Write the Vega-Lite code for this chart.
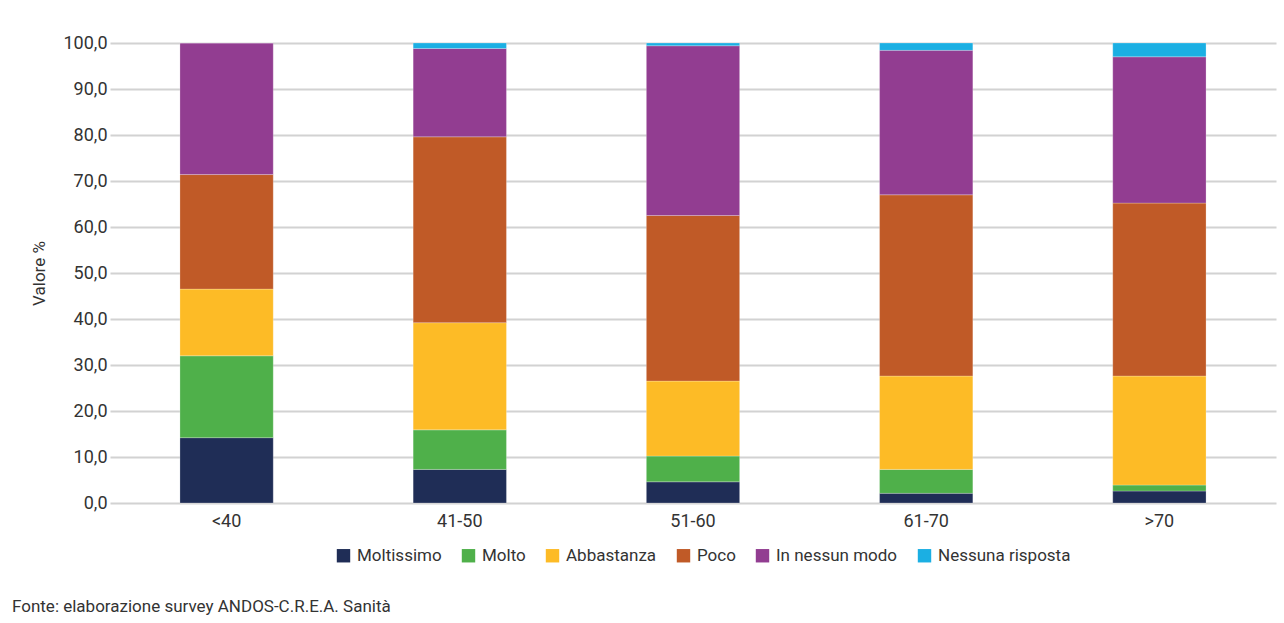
{
  "$schema": "https://vega.github.io/schema/vega-lite/v6.json",
  "width": 1166,
  "height": 460,
  "autosize": "none",
  "padding": {"left": 110, "top": 43, "right": 8, "bottom": 120},
  "background": "white",
  "title": {
    "text": "Fonte: elaborazione survey ANDOS-C.R.E.A. Sanità",
    "orient": "bottom",
    "anchor": "start",
    "frame": "group",
    "dx": -98,
    "offset": 35,
    "fontSize": 17,
    "fontWeight": "normal",
    "font": "Roboto, sans-serif",
    "color": "#333333"
  },
  "config": {
    "locale": {"number": {"decimal": ",", "thousands": ".", "grouping": [3], "currency": ["€", ""]}},
    "view": {"stroke": null},
    "font": "Roboto, sans-serif"
  },
  "data": {
    "values": [
      {"eta": "<40", "risposta": "Moltissimo", "k": 1, "valore": 14.2},
      {"eta": "<40", "risposta": "Molto", "k": 2, "valore": 17.8},
      {"eta": "<40", "risposta": "Abbastanza", "k": 3, "valore": 14.5},
      {"eta": "<40", "risposta": "Poco", "k": 4, "valore": 24.9},
      {"eta": "<40", "risposta": "In nessun modo", "k": 5, "valore": 28.6},
      {"eta": "<40", "risposta": "Nessuna risposta", "k": 6, "valore": 0.0},
      {"eta": "41-50", "risposta": "Moltissimo", "k": 1, "valore": 7.3},
      {"eta": "41-50", "risposta": "Molto", "k": 2, "valore": 8.6},
      {"eta": "41-50", "risposta": "Abbastanza", "k": 3, "valore": 23.3},
      {"eta": "41-50", "risposta": "Poco", "k": 4, "valore": 40.4},
      {"eta": "41-50", "risposta": "In nessun modo", "k": 5, "valore": 19.2},
      {"eta": "41-50", "risposta": "Nessuna risposta", "k": 6, "valore": 1.2},
      {"eta": "51-60", "risposta": "Moltissimo", "k": 1, "valore": 4.6},
      {"eta": "51-60", "risposta": "Molto", "k": 2, "valore": 5.6},
      {"eta": "51-60", "risposta": "Abbastanza", "k": 3, "valore": 16.3},
      {"eta": "51-60", "risposta": "Poco", "k": 4, "valore": 36.0},
      {"eta": "51-60", "risposta": "In nessun modo", "k": 5, "valore": 36.9},
      {"eta": "51-60", "risposta": "Nessuna risposta", "k": 6, "valore": 0.6},
      {"eta": "61-70", "risposta": "Moltissimo", "k": 1, "valore": 2.1},
      {"eta": "61-70", "risposta": "Molto", "k": 2, "valore": 5.2},
      {"eta": "61-70", "risposta": "Abbastanza", "k": 3, "valore": 20.3},
      {"eta": "61-70", "risposta": "Poco", "k": 4, "valore": 39.4},
      {"eta": "61-70", "risposta": "In nessun modo", "k": 5, "valore": 31.4},
      {"eta": "61-70", "risposta": "Nessuna risposta", "k": 6, "valore": 1.6},
      {"eta": ">70", "risposta": "Moltissimo", "k": 1, "valore": 2.6},
      {"eta": ">70", "risposta": "Molto", "k": 2, "valore": 1.3},
      {"eta": ">70", "risposta": "Abbastanza", "k": 3, "valore": 23.7},
      {"eta": ">70", "risposta": "Poco", "k": 4, "valore": 37.6},
      {"eta": ">70", "risposta": "In nessun modo", "k": 5, "valore": 31.8},
      {"eta": ">70", "risposta": "Nessuna risposta", "k": 6, "valore": 3.0}
    ]
  },
  "mark": {"type": "bar", "stroke": "#ffffff", "strokeWidth": 0.4, "strokeOpacity": 0.6},
  "encoding": {
    "x": {
      "field": "eta",
      "type": "nominal",
      "sort": ["<40", "41-50", "51-60", "61-70", ">70"],
      "scale": {"paddingInner": 0.6, "paddingOuter": 0.3},
      "axis": {
        "title": null,
        "labelAngle": 0,
        "labelFontSize": 18,
        "labelColor": "#333333",
        "labelPadding": 9,
        "ticks": false,
        "domain": false
      }
    },
    "y": {
      "field": "valore",
      "type": "quantitative",
      "stack": "zero",
      "scale": {"domain": [0, 100], "nice": false},
      "axis": {
        "title": "Valore %",
        "titleFontSize": 17,
        "titleFontWeight": "normal",
        "titleColor": "#333333",
        "titlePadding": 14,
        "values": [0, 10, 20, 30, 40, 50, 60, 70, 80, 90, 100],
        "format": ".1f",
        "labelFontSize": 18,
        "labelColor": "#333333",
        "labelPadding": 3,
        "ticks": false,
        "domain": false,
        "grid": true,
        "gridColor": "#d2d2d2",
        "gridWidth": 2
      }
    },
    "color": {
      "field": "risposta",
      "type": "nominal",
      "sort": ["Moltissimo", "Molto", "Abbastanza", "Poco", "In nessun modo", "Nessuna risposta"],
      "scale": {
        "domain": ["Moltissimo", "Molto", "Abbastanza", "Poco", "In nessun modo", "Nessuna risposta"],
        "range": ["#1f2d56", "#4fb04a", "#fdbb26", "#c05a27", "#923d91", "#1bafe3"]
      },
      "legend": {
        "title": null,
        "orient": "none",
        "legendX": 225,
        "legendY": 504,
        "direction": "horizontal",
        "symbolType": "square",
        "symbolSize": 180,
        "symbolStrokeWidth": 0,
        "labelFontSize": 17,
        "labelColor": "#333333",
        "columnPadding": 18,
        "labelOffset": 5
      }
    },
    "order": {"field": "k", "type": "quantitative", "sort": "ascending"}
  }
}
